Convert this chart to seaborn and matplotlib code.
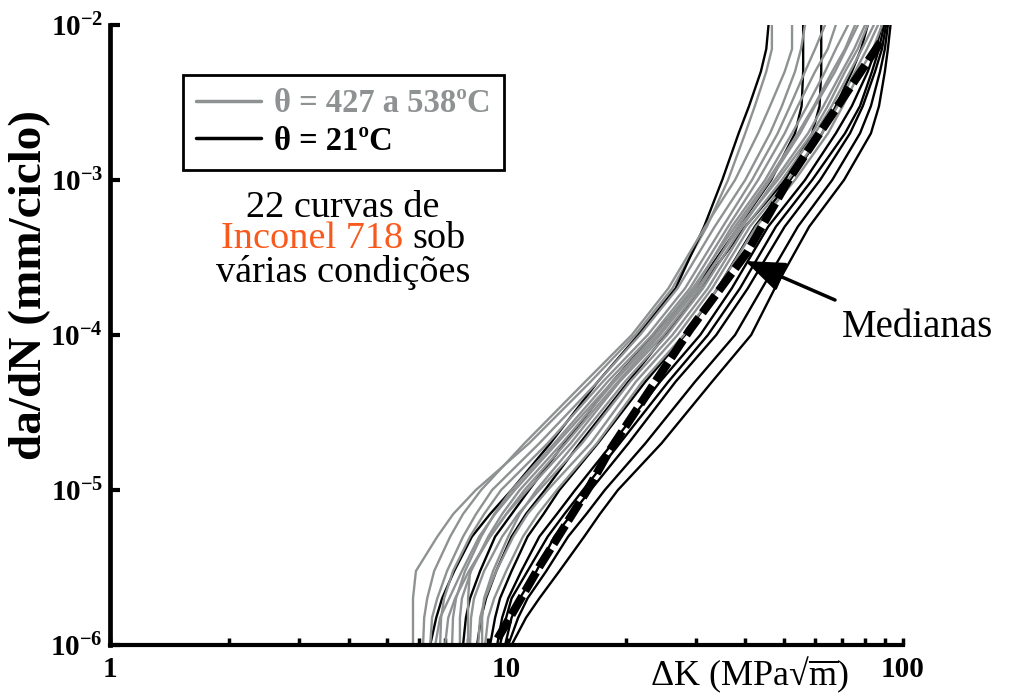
import numpy as np
import pandas as pd
import matplotlib
matplotlib.use("Agg")
import matplotlib.pyplot as plt
import seaborn as sns
from matplotlib.lines import Line2D
from matplotlib.font_manager import FontProperties
from matplotlib.ticker import LogLocator, NullLocator, NullFormatter

# ---------------- data ----------------
# crack growth rate levels shared by all curves (mm/ciclo)
dadn_levels = [1e-6, 1.5e-6, 2e-6, 3e-6, 5e-6, 7e-6, 1e-5, 2e-5, 5e-5, 1e-4,
               2e-4, 5e-4, 1e-3, 2e-3, 3e-3, 5e-3, 7e-3, 1e-2]

# Delta K (MPa sqrt m) of each curve at those levels -- 427 a 538 C (gray)
g01 = [5.81, 5.81, 5.81, 5.91, 6.69, 7.34, 8.37, 11.4, 16.3, 21.1, 26.2, 32.0, 36.2, 40.0, 42.3, 45.2, 46.7, 46.7]
g02 = [6.16, 6.20, 6.31, 6.57, 7.21, 7.77, 8.63, 11.1, 15.8, 20.7, 25.6, 31.7, 37.7, 43.1, 46.2, 50.3, 52.5, 52.5]
g03 = [6.42, 6.49, 6.69, 7.08, 7.77, 8.38, 9.20, 12.1, 17.0, 21.7, 27.0, 33.5, 40.0, 46.2, 49.5, 53.4, 55.3, 56.6]
g04 = [6.80, 6.84, 6.96, 7.33, 8.09, 8.78, 9.69, 12.7, 17.5, 22.7, 28.2, 35.1, 41.6, 48.3, 51.9, 56.6, 60.0, 63.6]
g05 = [7.29, 7.33, 7.46, 7.86, 8.63, 9.31, 10.3, 13.2, 18.0, 23.3, 29.0, 36.2, 43.1, 50.3, 54.3, 60.0, 64.6, 67.7]
g06 = [7.63, 7.63, 7.72, 8.14, 8.99, 9.75, 10.8, 13.8, 18.7, 24.1, 29.9, 37.0, 44.9, 52.5, 57.3, 63.6, 67.7, 72.7]
g07 = [8.00, 8.00, 8.00, 8.09, 9.09, 10.0, 11.3, 14.5, 19.3, 24.9, 30.8, 38.3, 46.2, 55.0, 60.0, 67.4, 71.9, 77.0]
g08 = [8.68, 8.68, 8.78, 9.25, 10.1, 10.8, 11.9, 14.9, 19.9, 25.4, 31.3, 39.3, 47.5, 57.6, 63.0, 70.1, 75.3, 80.2]
g09 = [8.09, 8.14, 8.28, 8.78, 9.75, 10.7, 12.1, 15.5, 20.5, 26.2, 32.2, 40.1, 49.5, 60.0, 66.1, 73.5, 78.8, 84.4]
g10 = [8.48, 8.58, 8.83, 9.42, 10.4, 11.3, 12.7, 16.3, 21.2, 27.0, 33.0, 41.1, 51.3, 62.5, 68.4, 75.7, 81.1, 86.5]
g11 = [8.83, 8.99, 9.31, 9.98, 11.0, 12.0, 13.4, 16.9, 22.0, 28.0, 34.1, 42.6, 53.4, 64.7, 70.5, 77.9, 84.0, 88.5]
g12 = [7.00, 7.13, 7.42, 8.04, 9.09, 9.98, 11.1, 14.1, 19.1, 24.4, 30.3, 38.8, 48.3, 59.0, 64.6, 71.4, 76.9, 81.5]
g13 = [6.61, 6.80, 7.17, 7.72, 8.53, 9.36, 10.5, 13.4, 18.5, 23.7, 29.5, 37.7, 45.7, 54.3, 59.6, 66.3, 71.4, 75.7]

# -- 21 C (black)
b01 = [6.42, 6.65, 6.88, 7.38, 8.18, 9.09, 10.3, 12.9, 17.0, 21.5, 26.7, 31.5, 35.0, 38.5, 40.9, 43.8, 45.2, 45.8]
b02 = [7.77, 7.90, 8.09, 8.58, 9.36, 10.3, 11.4, 14.0, 18.5, 23.5, 30.0, 38.5, 46.5, 53.4, 55.5, 56.0, 56.0, 56.0]
b03 = [8.43, 8.63, 8.88, 9.42, 10.3, 11.2, 12.5, 15.3, 20.3, 25.2, 30.8, 40.0, 50.4, 59.0, 61.6, 62.2, 62.2, 62.2]
b04 = [9.09, 9.36, 9.63, 10.3, 11.3, 12.4, 13.6, 17.0, 22.4, 28.2, 34.1, 42.3, 51.9, 62.5, 67.7, 74.3, 78.4, 81.5]
b05 = [9.47, 9.75, 10.1, 10.9, 12.1, 13.4, 14.9, 18.5, 24.4, 30.8, 37.0, 45.7, 56.6, 67.7, 74.3, 81.5, 85.4, 88.5]
b06 = [9.92, 10.3, 10.8, 11.9, 13.2, 14.6, 16.3, 20.3, 26.7, 33.8, 40.6, 50.3, 61.8, 73.5, 79.2, 85.0, 88.5, 90.6]
b07 = [10.1, 10.7, 11.3, 12.6, 14.3, 15.9, 17.7, 22.4, 29.9, 37.7, 44.1, 54.3, 66.3, 77.9, 83.0, 87.5, 90.0, 91.6]
b08 = [10.3, 11.2, 12.1, 13.6, 15.7, 17.2, 19.1, 24.6, 33.0, 41.4, 47.5, 58.0, 71.0, 83.0, 87.0, 90.0, 91.6, 93.0]
b09 = [9.63, 9.98, 10.3, 11.3, 12.7, 14.0, 15.6, 19.3, 25.6, 32.2, 38.8, 47.8, 59.0, 71.4, 77.9, 83.5, 87.0, 89.6]

# median curve
median_K = [9.5, 12.1, 16.0, 18.2, 22.1, 29.0, 40.4, 51.9, 68.2, 89.1]
median_dadn = [1.1e-6, 3.2e-6, 1.0e-5, 1.8e-5, 3.8e-5, 1.08e-4, 3.4e-4, 1.04e-3, 2.96e-3, 8.2e-3]
arrow_tip = (40.0, 3.0e-4)

x_ticks = [1, 10, 100]
x_tick_labels = ["1", "10", "100"]
y_ticks = [1e-6, 1e-5, 1e-4, 1e-3, 1e-2]
y_tick_labels = [r"$\mathbf{10^{-6}}$", r"$\mathbf{10^{-5}}$", r"$\mathbf{10^{-4}}$",
                 r"$\mathbf{10^{-3}}$", r"$\mathbf{10^{-2}}$"]

legend_labels = ["θ = 427 a 538ºC", "θ = 21ºC"]

gray_curves = [g01, g02, g03, g04, g05, g06, g07, g08, g09, g10, g11, g12, g13]
black_curves = [b01, b02, b03, b04, b05, b06, b07, b08, b09]

# ---------------- style ----------------
sns.set_style("ticks")
SERIF = "Liberation Serif"
plt.rcParams["font.family"] = [SERIF, "DejaVu Serif"]
plt.rcParams["mathtext.fontset"] = "custom"
plt.rcParams["mathtext.rm"] = SERIF
plt.rcParams["mathtext.it"] = SERIF + ":italic"
plt.rcParams["mathtext.bf"] = SERIF + ":bold"
for key in ["text.color", "axes.labelcolor", "xtick.color", "ytick.color", "axes.edgecolor"]:
    plt.rcParams[key] = "black"

GRAY = "#8e9292"
BLACK = "#000000"
ORANGE = "#F85A1E"

W, H = 1014, 695
fig = plt.figure(figsize=(W / 100, H / 100), dpi=100)
ax = fig.add_axes([110 / W, 1 - 645 / H, 793 / W, 620 / H])

# ---------------- curves ----------------
order = []
for i in range(max(len(gray_curves), len(black_curves))):
    if i < len(gray_curves):
        order.append((gray_curves[i], GRAY))
    if i < len(black_curves):
        order.append((black_curves[i], BLACK))

for kvals, col in order:
    sns.lineplot(x=kvals, y=dadn_levels, color=col, lw=1.7, sort=False,
                 estimator=None, ax=ax)

sns.lineplot(x=median_K, y=median_dadn, color=BLACK, lw=6.0, sort=False,
             estimator=None, ax=ax)
ax.lines[-1].set_dashes([2.6, 0.7])
ax.lines[-1].set_dash_capstyle("butt")

# ---------------- axes ----------------
ax.set_xscale("log")
ax.set_yscale("log")
ax.set_xlim(1, 100)
ax.set_ylim(1e-6, 1e-2)

for s in ["top", "right"]:
    ax.spines[s].set_visible(False)
ax.spines["left"].set_linewidth(3.4)
ax.spines["bottom"].set_linewidth(3.0)

ax.set_xticks(x_ticks, x_tick_labels, fontsize=21, fontweight="bold")
ax.set_yticks(y_ticks, y_tick_labels, fontsize=21)
ax.xaxis.set_minor_locator(LogLocator(base=10, subs=np.arange(2, 10)))
ax.xaxis.set_minor_formatter(NullFormatter())
ax.yaxis.set_minor_locator(NullLocator())
ax.tick_params(axis="x", which="both", direction="in", length=5, width=2.5, pad=8)
ax.tick_params(axis="y", which="major", direction="in", length=7, width=3, pad=5)

ax.set_xlabel(r"ΔK (MPa√$\overline{\mathrm{m}}$)", fontsize=26, ha="left", va="baseline")
ax.xaxis.set_label_coords((650 - 110) / 793, (645 - 685) / 620)
ax.set_ylabel("da/dN (mm/ciclo)", fontsize=34, fontweight="bold", ha="center", va="center")
ax.yaxis.set_label_coords((30 - 110) / 793, (645 - 285) / 620)

# ---------------- legend ----------------
handles = [Line2D([], [], color=GRAY, lw=2.5), Line2D([], [], color=BLACK, lw=2.5)]
leg = ax.legend(handles, legend_labels, loc="upper left",
                bbox_to_anchor=(183 / W, 1 - 75 / H), bbox_transform=fig.transFigure,
                frameon=True, fancybox=False, edgecolor="black", framealpha=1,
                prop=FontProperties(family=SERIF, weight="bold", size=23.5),
                handlelength=2.0, handletextpad=0.4, borderpad=0.4,
                labelspacing=0.2, borderaxespad=0)
leg.get_frame().set_linewidth(2)
for t, c in zip(leg.get_texts(), [GRAY, BLACK]):
    t.set_color(c)

# ---------------- annotations ----------------
fs = 27.5
fig.text(343 / W, 1 - 217 / H, "22 curvas de", ha="center", va="baseline", fontsize=fs)
fig.text(403 / W, 1 - 248 / H, "Inconel 718", ha="right", va="baseline", fontsize=fs, color=ORANGE)
fig.text(412 / W, 1 - 248 / H, "sob", ha="left", va="baseline", fontsize=fs)
fig.text(343 / W, 1 - 282 / H, "várias condições", ha="center", va="baseline", fontsize=fs)

fig.text(842 / W, 1 - 337 / H, "Medianas", ha="left", va="baseline", fontsize=28)
ax.annotate("", xy=arrow_tip, xycoords="data",
            xytext=(835 / W, 1 - 300 / H), textcoords="figure fraction",
            arrowprops=dict(arrowstyle="-|>,head_length=1.1,head_width=0.42",
                            lw=2.5, color="black", mutation_scale=22,
                            shrinkA=0, shrinkB=0))

fig.savefig("out.png", dpi=100)
